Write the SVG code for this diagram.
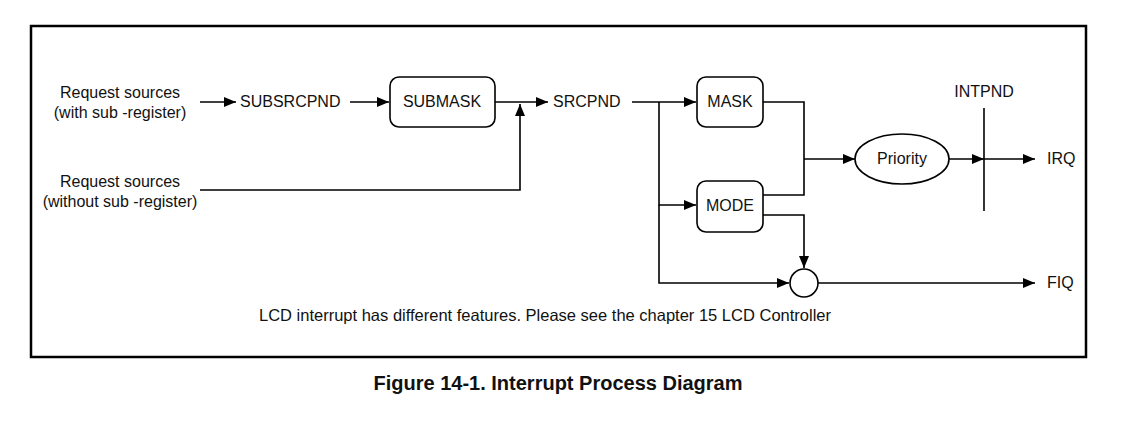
<svg xmlns="http://www.w3.org/2000/svg" width="1122" height="427" viewBox="0 0 1122 427">
<defs>
<marker id="ah" viewBox="0 0 12 10" refX="12" refY="5" markerWidth="12" markerHeight="10" markerUnits="userSpaceOnUse" orient="auto">
<path d="M0,0 L12,5 L0,10 z" fill="#000"/>
</marker>
</defs>
<style>
text{font-family:"Liberation Sans",Arial,sans-serif;font-size:16px;fill:#111}
.c{text-anchor:middle}
.box{fill:#fff;stroke:#000;stroke-width:1.6}
.ln{fill:none;stroke:#000;stroke-width:1.6}
.ar{fill:none;stroke:#000;stroke-width:1.6;marker-end:url(#ah)}
.note{font-size:16.5px}
.cap{font-weight:bold;font-size:20px}
</style>
<rect width="1122" height="427" fill="#fff"/>
<rect x="31" y="26" width="1055" height="331" fill="none" stroke="#000" stroke-width="2.5"/>
<g id="connectors">
<path class="ar" d="M200,102 H236"/>
<path class="ar" d="M350,102 H389"/>
<path class="ar" d="M495,102 H548"/>
<path class="ar" d="M200,190 H520 V104"/>
<path class="ar" d="M632,102 H696"/>
<path class="ar" d="M659,102 V205 H696"/>
<path class="ar" d="M659,205 V283 H789"/>
<path class="ln" d="M763,102 H804 V195 H763"/>
<path class="ar" d="M804,159 H855"/>
<path class="ar" d="M949,159 H984"/>
<path class="ar" d="M984,159 H1035"/>
<path class="ln" d="M984,108 V211"/>
<path class="ar" d="M763,215 H804 V268"/>
<path class="ar" d="M818,283 H1035"/>
</g>
<g id="src1"><text class="c" x="120" y="98">Request sources</text><text class="c" x="120" y="118">(with sub -register)</text></g>
<g id="src2"><text class="c" x="120" y="187">Request sources</text><text class="c" x="120" y="207">(without sub -register)</text></g>
<g id="subsrcpnd"><text x="240" y="107">SUBSRCPND</text></g>
<g id="submask"><rect class="box" x="390" y="77" width="105" height="50" rx="9"/><text class="c" x="442" y="107">SUBMASK</text></g>
<g id="srcpnd"><text x="553" y="107">SRCPND</text></g>
<g id="mask"><rect class="box" x="697" y="77" width="66" height="50" rx="9"/><text class="c" x="730" y="107">MASK</text></g>
<g id="mode"><rect class="box" x="697" y="181" width="66" height="51" rx="9"/><text class="c" x="730" y="211">MODE</text></g>
<g id="priority"><ellipse class="box" cx="902" cy="159" rx="47" ry="25"/><text class="c" x="902" y="164">Priority</text></g>
<g id="intpnd"><text class="c" x="984" y="97">INTPND</text></g>
<g id="or"><circle class="box" cx="804" cy="283" r="14"/></g>
<g id="irq"><text x="1047" y="164">IRQ</text></g>
<g id="fiq"><text x="1047" y="288">FIQ</text></g>
<text class="c note" x="545" y="321">LCD interrupt has different features. Please see the chapter 15 LCD Controller</text>
<text class="c cap" x="558" y="390">Figure 14-1. Interrupt Process Diagram</text>
</svg>
